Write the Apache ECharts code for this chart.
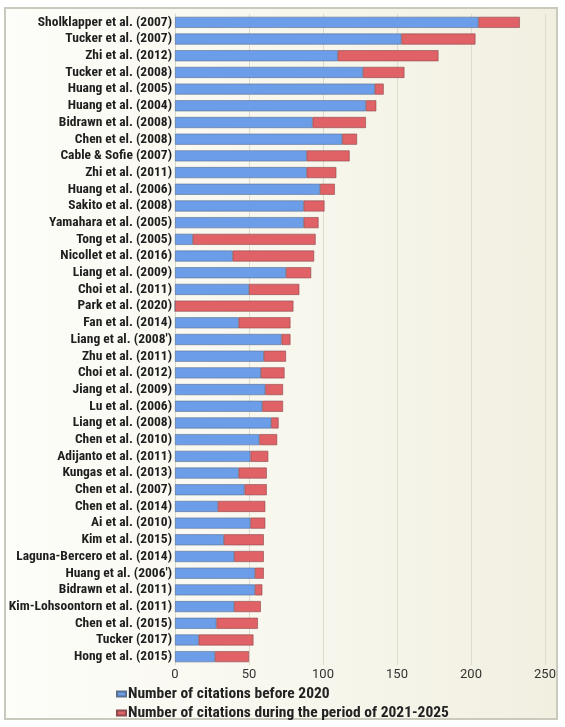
<!DOCTYPE html>
<html>
<head>
<meta charset="utf-8">
<script src="https://cdn.jsdelivr.net/npm/echarts@6/dist/echarts.min.js"></script>
<style>
html,body{margin:0;padding:0;background:#ffffff;}
#frame{position:absolute;left:4px;top:7px;width:550px;height:709px;border:2px solid #c9c9bd;
background:linear-gradient(90deg,#fdfdf9 0%,#f7f6ec 60%,#f1efe0 100%);}
#chart{position:absolute;left:0;top:0;width:565px;height:727px;}
</style>
</head>
<body>
<div id="frame"></div>
<div id="chart"></div>
<script>
const categories = [
 "Sholklapper et al. (2007)","Tucker et al. (2007)","Zhi et al. (2012)","Tucker et al. (2008)",
 "Huang et al. (2005)","Huang et al. (2004)","Bidrawn et al. (2008)","Chen et el. (2008)",
 "Cable & Sofie (2007)","Zhi et al. (2011)","Huang et al. (2006)","Sakito et al. (2008)",
 "Yamahara et al. (2005)","Tong et al. (2005)","Nicollet et al. (2016)","Liang et al. (2009)",
 "Choi et al. (2011)","Park et al. (2020)","Fan et al. (2014)","Liang et al. (2008')",
 "Zhu et al. (2011)","Choi et al. (2012)","Jiang et al. (2009)","Lu et al. (2006)",
 "Liang et al. (2008)","Chen et al. (2010)","Adijanto et al. (2011)","Kungas et al. (2013)",
 "Chen et al. (2007)","Chen et al. (2014)","Ai et al. (2010)","Kim et al. (2015)",
 "Laguna-Bercero et al. (2014)","Huang et al. (2006')","Bidrawn et al. (2011)",
 "Kim-Lohsoontorn et al. (2011)","Chen et al. (2015)","Tucker (2017)","Hong et al. (2015)"
];
const before2020 = [205,153,110,127,135,129,93,113,89,89,98,87,87,12,39,75,50,0,43,72,
 60,58,61,59,65,57,51,43,47,29,51,33,40,54,54,40,28,16,27];
const period2021_2025 = [28,50,68,28,6,7,36,10,29,20,10,14,10,83,55,17,34,80,35,6,
 15,16,12,14,5,12,12,19,15,32,10,27,20,6,5,18,28,37,23];
const xTicks = [0,50,100,150,200,250];
const seriesNames = ["Number of citations before 2020","Number of citations during the period of 2021-2025"];

const FONT = "'Liberation Sans Narrow','Roboto Condensed','Roboto',sans-serif";
const chart = echarts.init(document.getElementById('chart'));
chart.setOption({
  backgroundColor: 'transparent',
  animation: false,
  grid: {left: 175, right: 20, top: 14, bottom: 62, containLabel: false},
  legend: {
    orient: 'vertical', left: 111, top: 681, itemWidth: 9, itemHeight: 5, itemGap: 3,
    icon: 'rect',
    textStyle: {fontFamily: FONT, fontSize: 15.5, fontWeight: 'bold', color: '#222', lineHeight: 14, padding:[0,0,0,-3]},
    data: seriesNames
  },
  xAxis: {
    type: 'value', min: xTicks[0], max: xTicks[xTicks.length-1], interval: 50,
    axisLine: {show: false}, axisTick: {show: false},
    splitLine: {lineStyle: {color: '#dedbcc', width: 1}},
    axisLabel: {fontFamily: 'Roboto, sans-serif', fontSize: 13, color: '#333', margin: 3}
  },
  yAxis: {
    type: 'category', inverse: true, data: categories,
    axisLine: {show: true, lineStyle: {color: '#d8d6c8'}}, axisTick: {show: false},
    axisLabel: {interval: 0, fontFamily: FONT, fontSize: 13.5, fontWeight: 'bold', color: '#1e1e1e', margin: 3}
  },
  series: [
    {name: seriesNames[0], type: 'bar', stack: 'c', data: before2020, barCategoryGap: '34%',
     itemStyle: {color: '#6b9de8', borderColor: '#5b6f8f', borderWidth: 0.6}},
    {name: seriesNames[1], type: 'bar', stack: 'c', data: period2021_2025,
     itemStyle: {color: '#e06166', borderColor: '#8a4a4e', borderWidth: 0.6}}
  ]
});
</script>
</body>
</html>
